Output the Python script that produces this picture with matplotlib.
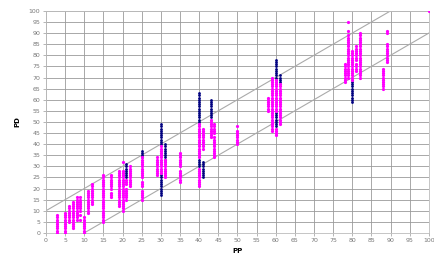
import matplotlib
matplotlib.use("Agg")
import matplotlib.pyplot as plt

# magenta columns: x position and the PD values stacked on it
mag_x = [3, 5, 6, 7, 8, 9, 10, 11, 12, 15, 17, 19, 20, 21, 22, 25, 29, 30, 31, 35,
         40, 41, 43, 44, 50, 58, 59, 60, 61, 78, 79, 80, 81, 82, 88, 89, 100]
mag_y = [
    [0, 1, 2, 3, 4, 5, 6, 7, 8],
    [0, 1, 2, 3, 4, 5, 6, 7, 8, 9],
    [5, 6, 7, 8, 9, 10, 11, 12],
    [2, 3, 4, 5, 6, 7, 8, 9, 10, 11, 12, 13, 14],
    [6, 7, 8, 9, 10, 11, 12, 13, 14, 15, 16],
    [6, 8, 10, 11, 12, 13, 14, 15, 16],
    [0, 1, 2, 3, 4, 5, 6, 7],
    [9, 10, 11, 12, 13, 14, 15, 16, 17, 18, 19],
    [13, 14, 15, 16, 17, 18, 19, 20, 21, 22],
    [5, 6, 7, 8, 9, 10, 11, 12, 13, 14, 15, 16, 17, 18, 19, 20, 21, 22, 23, 24, 25, 26],
    [16, 17, 18, 20, 21, 22, 23, 24, 25, 26],
    [12, 13, 14, 15, 16, 17, 18, 19, 20, 21, 22, 23, 24, 25, 26, 27, 28],
    [10, 11, 12, 13, 14, 15, 16, 17, 18, 19, 20, 21, 22, 23, 24, 25, 26, 27, 28, 32],
    [15, 16, 17, 18, 19, 20, 22, 23, 24],
    [21, 22, 23, 24, 25, 26, 27, 28, 29, 30],
    [15, 16, 17, 18, 19, 21, 22, 23, 25, 26, 27, 28, 29, 30, 31, 32, 33, 34],
    [26, 27, 28, 29, 30, 31, 32, 33, 34],
    [27, 28, 29, 30, 31, 32, 33, 34, 35, 36, 37, 38, 39],
    [25, 26, 27, 28, 29, 30, 31, 32, 33],
    [23, 24, 25, 26, 27, 28, 30, 31, 32, 33, 34, 35, 36],
    [21, 22, 23, 24, 25, 26, 27, 28, 29, 34, 35, 36, 37, 38, 39, 40, 41, 42, 43, 44, 45, 46, 47, 48, 49],
    [38, 39, 40, 41, 42, 43, 44, 45, 46, 47],
    [43, 44, 45, 46, 47, 48, 49, 50, 51],
    [34, 35, 36, 37, 38, 39, 40, 41, 42, 43, 45, 46, 47, 48, 49],
    [40, 41, 42, 43, 44, 45, 46, 48],
    [55, 56, 57, 58, 59, 60, 61],
    [46, 47, 48, 49, 50, 51, 52, 53, 54, 55, 56, 57, 58, 59, 60, 61, 62, 63, 64, 65, 66, 67, 68, 69, 70],
    [44, 45, 46, 47, 55, 56, 57, 58, 59, 60, 61, 62, 63, 64, 65, 66, 67, 68, 69],
    [49, 50, 51, 52, 53, 54, 55, 56, 57, 58, 59, 60, 61, 62, 63, 64, 65, 66, 67],
    [68, 69, 70, 71, 72, 73, 74, 75, 76],
    [70, 71, 72, 73, 74, 75, 76, 77, 78, 79, 80, 81, 82, 83, 84, 85, 86, 87, 88, 89, 91, 95],
    [69, 70, 71, 72, 73, 74, 75, 76, 77, 78, 79, 80, 81, 82],
    [73, 74, 75, 76, 78, 79, 80, 81, 82, 83, 84],
    [70, 71, 72, 73, 74, 75, 76, 77, 78, 79, 80, 81, 82, 83, 84, 85, 86, 87, 88, 89, 90],
    [65, 66, 67, 68, 69, 70, 71, 72, 73, 74],
    [77, 78, 79, 80, 81, 82, 83, 84, 85, 90, 91],
    [100],
]

# navy columns
navy_x = [21, 25, 30, 30, 31, 40, 40, 41, 43, 60, 60, 61, 80]
navy_y = [
    [25, 26, 27, 28, 29, 30, 31],
    [34, 35, 36, 37],
    [17, 18, 19, 20, 21, 22, 23, 24, 25, 26],
    [40, 41, 42, 43, 44, 45, 46, 47, 48, 49],
    [33, 34, 35, 36, 37, 38, 39, 40],
    [30, 31, 32, 33],
    [50, 51, 52, 53, 54, 55, 56, 57, 58, 59, 60, 61, 62, 63],
    [25, 26, 27, 28, 29, 30, 31, 32],
    [52, 53, 54, 55, 56, 57, 58, 59, 60],
    [48, 49, 50, 51, 52, 53, 54],
    [70, 71, 72, 73, 74, 75, 76, 77, 78],
    [68, 69, 70, 71],
    [59, 60, 61, 62, 63, 64, 65, 66, 67, 68],
]

# band lines PD = PP +/- 10
band_hi_x, band_hi_y = [0, 90], [10, 100]
band_lo_x, band_lo_y = [10, 100], [0, 90]

ticks = list(range(0, 101, 5))

fig = plt.figure(figsize=(4.34, 2.54), dpi=100)
ax = fig.add_axes([0.106, 0.083, 0.882, 0.874])

ax.plot(band_hi_x, band_hi_y, color="#aaaaaa", lw=0.8, zorder=2)
ax.plot(band_lo_x, band_lo_y, color="#aaaaaa", lw=0.8, zorder=2)

for x, ys in zip(navy_x, navy_y):
    ax.plot([x] * len(ys), ys, "o", color="#000080", ms=2.0, mec="none", zorder=3)
for x, ys in zip(mag_x, mag_y):
    ax.plot([x] * len(ys), ys, "o", color="#ff00ff", ms=2.3, mec="none", zorder=4)

ax.set_xlim(0, 100); ax.set_ylim(0, 100)
ax.set_xticks(ticks); ax.set_yticks(ticks)
ax.tick_params(labelsize=4.5, labelcolor="#777777", length=2, width=0.5, color="#999999", pad=2)
ax.grid(True, color="#9a9a9a", lw=0.6)
ax.set_axisbelow(True)
for s in ax.spines.values():
    s.set_color("#bbbbbb"); s.set_linewidth(0.6)

ax.set_ylabel("PD", fontsize=5, fontweight="bold", labelpad=6)
ax.set_xlabel("PP", fontsize=5, fontweight="bold", labelpad=3.5)

fig.savefig("out.png", dpi=100)
